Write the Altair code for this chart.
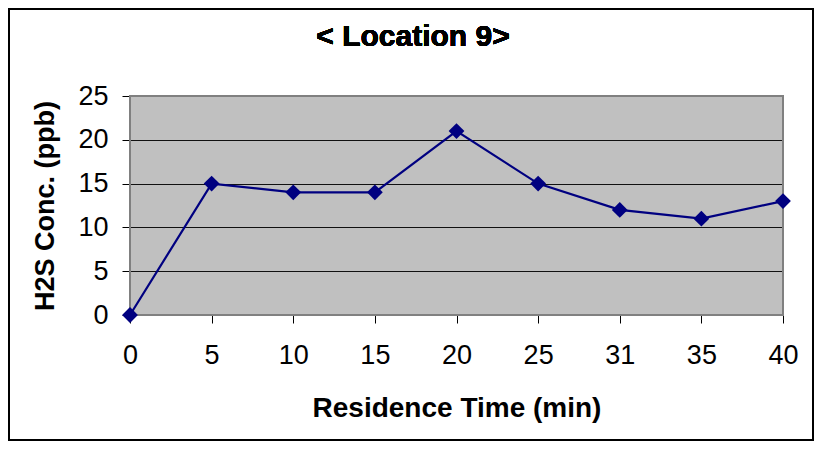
import altair as alt
import pandas as pd

times = ["0", "5", "10", "15", "20", "25", "31", "35", "40"]
conc = [0, 15, 14, 14, 21, 15, 12, 11, 13]

df = pd.DataFrame({"time": times, "conc": conc})

W, H = 653, 219
PL, PT = 122, 88
CW, CH = 806, 433

base = alt.Chart(df)

xscale = alt.Scale(type="point", padding=0)
yscale = alt.Scale(domain=[0, 25], nice=False, zero=True)

x_enc = alt.X(
    "time:O",
    sort=times,
    scale=xscale,
    axis=alt.Axis(
        title="Residence Time (min)",
        labelAngle=0,
        labelFontSize=27,
        labelFont="Liberation Sans",
        labelColor="black",
        labelPadding=19,
        tickSize=8,
        tickColor="black",
        domain=False,
        grid=False,
        titleFont="Liberation Sans",
        titleFontSize=28,
        titleFontWeight="bold",
        titleColor="black",
        titlePadding=26,
    ),
)
y_enc = alt.Y(
    "conc:Q",
    scale=yscale,
    axis=alt.Axis(
        title="H2S Conc. (ppb)",
        values=[0, 5, 10, 15, 20, 25],
        labelFontSize=27,
        labelFont="Liberation Sans",
        labelColor="black",
        labelPadding=14,
        tickSize=8,
        tickColor="black",
        domain=False,
        grid=True,
        gridColor="#111111",
        gridWidth=1.2,
        gridOpacity=1,
        titleFont="Liberation Sans",
        titleFontSize=27,
        titleFontWeight="bold",
        titleColor="black",
        titlePadding=18,
    ),
)

line = base.mark_line(color="#000080", strokeWidth=2.2).encode(x=x_enc, y=y_enc)
pts = base.mark_point(
    shape="diamond", filled=True, color="#000080", size=250, opacity=1
).encode(
    x=alt.X("time:O", sort=times, scale=xscale),
    y=alt.Y("conc:Q", scale=yscale),
)

border_plot = base.mark_rect(fill=None, stroke="#808080", strokeWidth=2).encode(
    x=alt.value(0), x2=alt.value(W), y=alt.value(0), y2=alt.value(H)
)

outer = base.mark_rect(fill=None, stroke="black", strokeWidth=1.5, clip=False).encode(
    x=alt.value(-PL + 1), x2=alt.value(CW - PL - 1), y=alt.value(-PT + 1), y2=alt.value(CH - PT - 1)
)

title = base.mark_text(
    text="< Location 9>",
    font="Liberation Sans",
    fontSize=30,
    fontWeight="bold",
    color="black",
    align="center",
    baseline="middle",
).encode(x=alt.value(413 - 130), y=alt.value(37 - 96))

chart = (
    alt.layer(border_plot, line, pts, outer, title)
    .properties(
        width=W,
        height=H,
        padding={"left": PL, "top": PT, "right": CW - PL - W, "bottom": CH - PT - H},
        autosize=alt.AutoSizeParams(type="none"),
        background="white",
    )
    .configure_view(fill="#C0C0C0", stroke=None)
)

chart.save("out.html", embed_options={"renderer": "svg", "actions": False})
